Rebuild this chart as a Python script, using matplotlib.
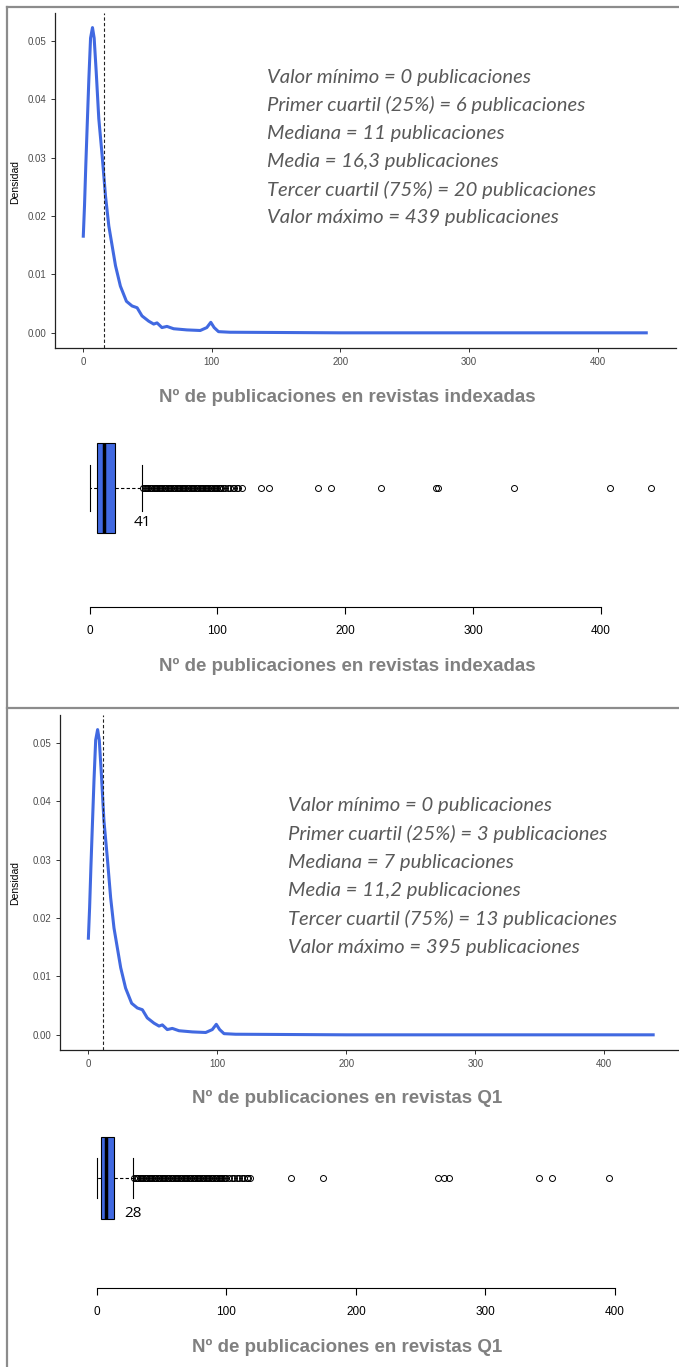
import numpy as np
import matplotlib
matplotlib.use('Agg')
import matplotlib.pyplot as plt
from matplotlib.lines import Line2D

# Density curve (same curve drawn in both panels)
dens_x = [0, 1, 2, 3.1, 4.4, 5.7, 7.2, 8.5, 10.1, 12.1, 14.7, 17.3, 19.9, 22.5, 25.1,
          28.9, 33.6, 38, 41.9, 45.7, 50.9, 54.8, 57.4, 61.2, 65.1, 70.3, 80.6, 91,
          96.1, 99.2, 101.8, 105.2, 114.2, 116, 200, 300, 439]
dens_y = [0.0163, 0.0218, 0.0287, 0.0356, 0.0436, 0.0505, 0.0523, 0.0505, 0.0447, 0.0367,
          0.0304, 0.0235, 0.0183, 0.0149, 0.0115, 0.0080, 0.0054, 0.0046, 0.0043, 0.0029,
          0.0020, 0.0015, 0.0017, 0.0009, 0.0011, 0.0007, 0.0005, 0.0004, 0.0009, 0.0018,
          0.0009, 0.0002, 0.0001, 0.0001, 0.0, 0.0, 0.0]

# Panel 1: revistas indexadas
stats_idx = [0, 6, 11, 16.3, 20, 439]   # min, q1, median, mean, q3, max
whisker_idx = 41
outliers_idx = [42, 43, 44, 45, 46, 47, 48, 49, 50, 51, 52, 53, 54, 55, 56, 57, 58, 59, 60,
                61, 62, 63, 64, 65, 66, 67, 68, 69, 70, 71, 72, 73, 74, 75, 76, 77, 78, 79,
                80, 81, 82, 83, 84, 85, 86, 87, 88, 89, 90, 91, 92, 93, 94, 95, 96, 97, 98,
                99, 100, 101, 102, 103, 104, 106, 108, 110, 112, 113, 115, 116, 119, 134,
                140, 179, 189, 228, 271, 273, 332, 407, 439]
text_idx = ["Valor mínimo = 0 publicaciones",
            "Primer cuartil (25%) = 6 publicaciones",
            "Mediana = 11 publicaciones",
            "Media = 16,3 publicaciones",
            "Tercer cuartil (75%) = 20 publicaciones",
            "Valor máximo = 439 publicaciones"]
label_idx = "Nº de publicaciones en revistas indexadas"

# Panel 2: revistas Q1
stats_q1 = [0, 3, 7, 11.2, 13, 395]
whisker_q1 = 28
outliers_q1 = [29, 30, 31, 32, 33, 34, 35, 36, 37, 38, 39, 40, 41, 42, 43, 44, 45, 46, 47,
               48, 49, 50, 51, 52, 53, 54, 55, 56, 57, 58, 59, 60, 61, 62, 63, 64, 65, 66,
               67, 68, 69, 70, 71, 72, 73, 74, 75, 76, 77, 78, 79, 80, 81, 82, 83, 84, 85,
               86, 87, 88, 89, 90, 91, 92, 93, 94, 95, 96, 97, 98, 99, 100, 102, 104, 106,
               108, 110, 112, 114, 116, 117, 118, 150, 175, 263, 268, 272, 341, 351, 395]
text_q1 = ["Valor mínimo = 0 publicaciones",
           "Primer cuartil (25%) = 3 publicaciones",
           "Mediana = 7 publicaciones",
           "Media = 11,2 publicaciones",
           "Tercer cuartil (75%) = 13 publicaciones",
           "Valor máximo = 395 publicaciones"]
label_q1 = "Nº de publicaciones en revistas Q1"

W, H = 679, 1367
BLUE = '#4169E1'
fig = plt.figure(figsize=(W / 100, H / 100), dpi=100)
plt.rcParams['font.family'] = ['Liberation Sans', 'DejaVu Sans']


def px_axes(left, top, right, bottom):
    return fig.add_axes([left / W, 1 - bottom / H, (right - left) / W, (bottom - top) / H])


def density_panel(box, mean, ylab_y):
    ax = px_axes(*box)
    ax.plot(dens_x, dens_y, color=BLUE, lw=2.2, solid_capstyle='butt')
    ax.axvline(mean, color='#222222', lw=0.8, ls=(0, (3, 2)))
    ax.set_xlim(-21.95, 460.95)
    ax.set_ylim(-0.0026, 0.0548)
    ax.set_xticks([0, 100, 200, 300, 400])
    ax.set_yticks([0, 0.01, 0.02, 0.03, 0.04, 0.05])
    ax.set_yticklabels(['0.00', '0.01', '0.02', '0.03', '0.04', '0.05'])
    for s in ['top', 'right']:
        ax.spines[s].set_visible(False)
    for s in ['left', 'bottom']:
        ax.spines[s].set_linewidth(0.9)
        ax.spines[s].set_color('#222222')
    ax.tick_params(labelsize=7, labelcolor='#4D4D4D', length=3, width=0.7, color='#333333')
    fig.text(15 / W, 1 - ylab_y / H, 'Densidad', rotation=90, ha='center', va='center',
             fontsize=7.5, color='black')
    return ax


def box_panel(box, stats, whi, fliers, widths, capw, lab_y):
    ax = px_axes(*box)
    st = dict(whislo=stats[0], q1=stats[1], med=stats[2], q3=stats[4], whishi=whi,
              fliers=fliers)
    ax.bxp([st], positions=[1], widths=widths, capwidths=capw, orientation='horizontal',
           patch_artist=True, showfliers=True,
           boxprops=dict(facecolor=BLUE, edgecolor='black', lw=0.8),
           medianprops=dict(color='black', lw=2.5),
           whiskerprops=dict(color='black', lw=0.8, ls=(0, (3, 2))),
           capprops=dict(color='black', lw=0.8),
           flierprops=dict(marker='o', mfc='none', mec='black', ms=4.3, mew=0.7))
    ax.set_ylim(0.5, 1.5)
    ax.text(whi, lab_y, str(whi), ha='center', va='center', fontsize=11,
            family=['Open Sans', 'DejaVu Sans'])
    for s in ['top', 'right', 'left']:
        ax.spines[s].set_visible(False)
    ax.spines['bottom'].set_bounds(0, 400)
    ax.spines['bottom'].set_linewidth(0.8)
    ax.set_xticks([0, 100, 200, 300, 400])
    ax.set_yticks([])
    ax.tick_params(axis='x', labelsize=8.5, length=5, width=0.8, pad=8)
    return ax


def title(text, y):
    fig.text(347 / W, 1 - y / H, text, ha='center', va='center', fontsize=13.5,
             fontweight='bold', color='#808080')


def summary(lines, x, y0):
    for i, t in enumerate(lines):
        fig.text(x / W, 1 - (y0 + i * 28.2) / H, t, ha='left', va='center', fontsize=14.6,
                 style='italic', color='#595959', family=['Lato', 'DejaVu Sans'])


# top panel
ax1 = density_panel((55, 13, 676, 348), stats_idx[3], 182)
title(label_idx, 397)
summary(text_idx, 267, 77)
ax2 = box_panel((67.2, 369, 673, 607), stats_idx, whisker_idx, outliers_idx, 0.38, 0.19, 0.853)
ax2.set_xlim(-17.56, 456.56)
title(label_idx, 666)

# bottom panel
ax3 = density_panel((60, 715, 683, 1050), stats_q1[3], 883)
title(label_q1, 1098)
summary(text_q1, 288, 806)
ax4 = box_panel((76.3, 1068, 629, 1288), stats_q1, whisker_q1, outliers_q1, 0.373, 0.18, 0.84)
ax4.set_xlim(-15.8, 410.8)
title(label_q1, 1347)

# frame lines
frame = dict(color='#8C8C8C', lw=1.6, transform=fig.transFigure)
fig.add_artist(Line2D([7 / W, 1], [1 - 7 / H, 1 - 7 / H], **frame))
fig.add_artist(Line2D([7 / W, 7 / W], [0, 1 - 7 / H], **frame))
fig.add_artist(Line2D([7 / W, 1], [1 - 708 / H, 1 - 708 / H], **frame))

fig.savefig('out.png', dpi=100)
